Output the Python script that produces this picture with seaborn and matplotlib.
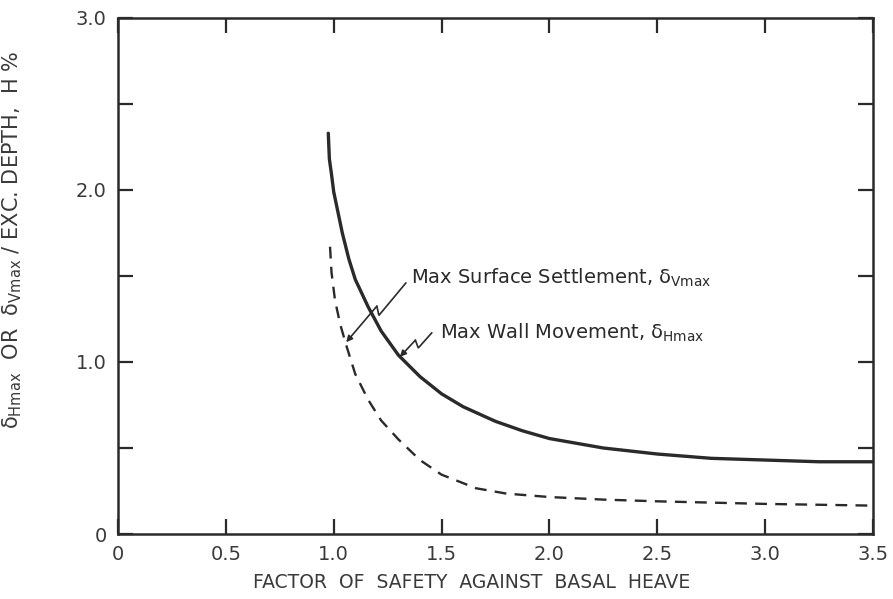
import numpy as np
import pandas as pd
import matplotlib
matplotlib.use("Agg")
import matplotlib.pyplot as plt
import seaborn as sns

# Factor of safety against basal heave vs. normalized movement (% of excavation depth)
fs_wall = [0.975, 0.98, 0.99, 1.00, 1.02, 1.04, 1.07, 1.10, 1.16, 1.22, 1.30, 1.40,
           1.50, 1.60, 1.75, 1.875, 2.00, 2.25, 2.50, 2.75, 3.00, 3.25, 3.50]
wall_movement = [2.33, 2.18, 2.09, 1.99, 1.87, 1.75, 1.60, 1.48, 1.32, 1.18, 1.04, 0.915,
                 0.815, 0.74, 0.655, 0.60, 0.555, 0.50, 0.465, 0.44, 0.43, 0.42, 0.42]

fs_settle = [0.983, 0.99, 1.006, 1.03, 1.06, 1.10, 1.16, 1.22, 1.30, 1.40, 1.50, 1.66,
             1.80, 2.00, 2.25, 2.50, 3.00, 3.50]
surface_settlement = [1.67, 1.52, 1.36, 1.22, 1.09, 0.93, 0.78, 0.66, 0.55, 0.43, 0.345,
                      0.266, 0.235, 0.215, 0.20, 0.19, 0.175, 0.165]

x_ticks = [0, 0.5, 1.0, 1.5, 2.0, 2.5, 3.0, 3.5]
x_tick_labels = ["0", "0.5", "1.0", "1.5", "2.0", "2.5", "3.0", "3.5"]
y_ticks = [0, 0.5, 1.0, 1.5, 2.0, 2.5, 3.0]
y_tick_labels = ["0", "", "1.0", "", "2.0", "", "3.0"]

INK = "#2a2a2a"

sns.set_theme(style="white")
plt.rcParams["font.family"] = ["DejaVu Sans"]
plt.rcParams["mathtext.fontset"] = "dejavusans"

fig = plt.figure(figsize=(8.93, 5.99), dpi=100)
ax = fig.add_axes([0.1321, 0.1085, 0.8455, 0.8615])

wall_df = pd.DataFrame({"fs": fs_wall, "ratio": wall_movement})
settle_df = pd.DataFrame({"fs": fs_settle, "ratio": surface_settlement})

sns.lineplot(data=wall_df, x="fs", y="ratio", ax=ax, color=INK, linewidth=2.4,
             sort=False, estimator=None)
sns.lineplot(data=settle_df, x="fs", y="ratio", ax=ax, color=INK, linewidth=1.7,
             sort=False, estimator=None, linestyle=(0, (5, 3.5)))

ax.set_xlim(0, 3.5)
ax.set_ylim(0, 3.0)
ax.set_xticks(x_ticks)
ax.set_xticklabels(x_tick_labels)
ax.set_yticks(y_ticks)
ax.set_yticklabels(y_tick_labels)

ax.tick_params(direction="in", length=11, width=1.6, color=INK, labelcolor="#3a3a3a",
               labelsize=14, top=True, right=True, bottom=True, left=True, pad=8)
for side in ax.spines.values():
    side.set_color(INK)
    side.set_linewidth(1.8)
    side.set_visible(True)

ax.set_xlabel("FACTOR  OF  SAFETY  AGAINST  BASAL  HEAVE", fontsize=13.5, color="#3a3a3a",
              labelpad=6)
ax.xaxis.set_label_coords(0.469, -0.075)
ax.set_ylabel(r"δ$_{\mathregular{Hmax}}$  OR  δ$_{\mathregular{Vmax}}$ / EXC. DEPTH,  H %",
              fontsize=15, color="#3a3a3a")
ax.yaxis.set_label_coords(-0.125, 0.57)


def leader(start, end, kink=4.0):
    """Zig-zag leader line with a small arrowhead, from a label to a curve."""
    to_px = ax.transData.transform
    to_data = ax.transData.inverted().transform
    p0 = np.asarray(to_px(start))
    p3 = np.asarray(to_px(end))
    d = p3 - p0
    n = np.array([-d[1], d[0]]) / np.hypot(*d)
    p1 = p0 + 0.50 * d + n * kink
    p2 = p0 + 0.44 * d - n * kink
    pts = to_data(np.vstack([p0, p1, p2]))
    ax.plot(pts[:, 0], pts[:, 1], color=INK, linewidth=1.2, solid_joinstyle="miter")
    ax.annotate("", xy=end, xytext=tuple(pts[2]),
                arrowprops=dict(arrowstyle="-|>", color=INK, lw=1.2,
                                mutation_scale=9, shrinkA=0, shrinkB=0))


ax.text(1.358, 1.49, r"Max Surface Settlement, δ$_{\mathregular{Vmax}}$", fontsize=14,
        color=INK, ha="left", va="center")
leader((1.335, 1.46), (1.058, 1.115))

ax.text(1.493, 1.17, r"Max Wall Movement, δ$_{\mathregular{Hmax}}$", fontsize=14,
        color=INK, ha="left", va="center")
leader((1.455, 1.17), (1.307, 1.03))

fig.savefig("out.png", dpi=100, facecolor="white")
